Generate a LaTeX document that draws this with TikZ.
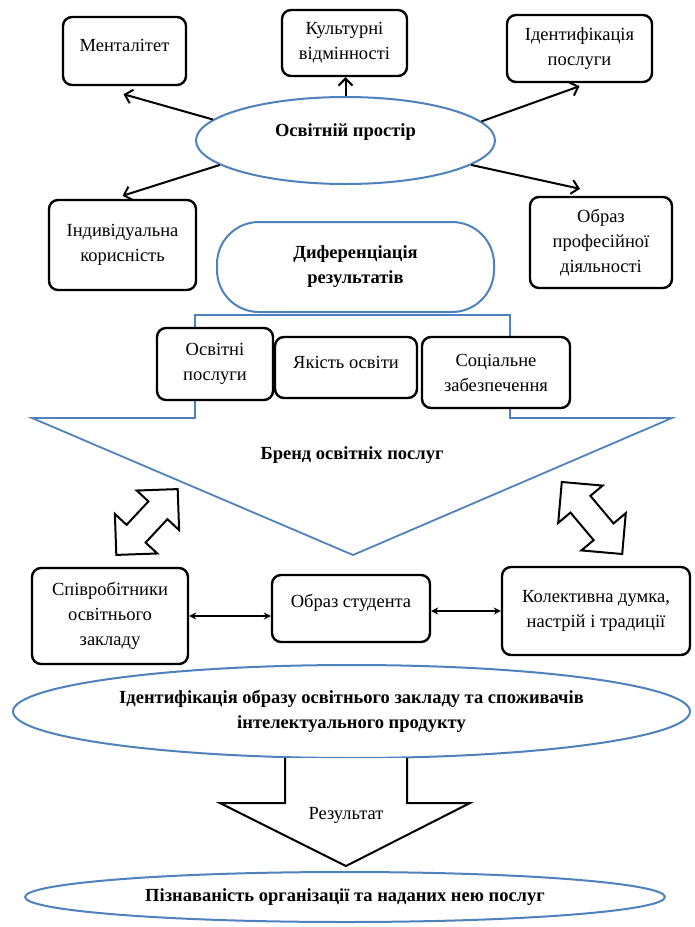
\documentclass[tikz,border=0pt]{standalone}
\usepackage{fontspec}
\setmainfont{Liberation Serif}
\usetikzlibrary{arrows.meta,calc,shapes.geometric}
\definecolor{myblue}{RGB}{79,129,189}
\newcommand\fsz{\fontsize{18.5}{25}\selectfont}
\begin{document}
\begin{tikzpicture}[x=1pt,y=-1pt,
  box/.style={draw=black, line width=2.4pt, rounded corners=9pt, fill=white, align=center, font=\fsz, inner sep=2pt},
  bluebox/.style={draw=myblue, line width=2pt, fill=white, align=center, font=\fsz\bfseries, inner sep=2pt},
  blueline/.style={draw=myblue, line width=1.8pt},
  barb/.style={line width=2pt, -{Straight Barb[length=7pt,width=14pt,line width=2pt]}},
  dbl/.style={line width=1.8pt, {Stealth[length=7pt,width=7pt]}-{Stealth[length=7pt,width=7pt]}},
  fatarrow/.style={draw=black, line width=2pt, fill=white, line join=miter},
  blockarrow/.style={draw=black, line width=2pt, fill=white}
]
\useasboundingbox (0,0) rectangle (694,927);

% bracket + brand triangle
\draw[blueline] (32,418) -- (195,418) -- (195,315) -- (510,315) -- (510,418) -- (672,418) -- (353,555) -- cycle;

% top part
\node[box, minimum width=123pt, minimum height=68pt, text depth=12pt] (ment) at (124.5,51) {Менталітет};
\node[box, minimum width=125pt, minimum height=66pt] (kult) at (344.5,43) {Культурні\\відмінності};
\node[box, minimum width=145pt, minimum height=67pt] (ident) at (579.5,48.5) {Ідентифікація\\послуги};
\node[bluebox, ellipse, minimum width=299pt, minimum height=87pt, text depth=20pt] (osv) at (345.5,140.5) {Освітній простір};
\node[box, minimum width=147pt, minimum height=90pt] (indiv) at (122.5,245) {Індивідуальна\\корисність};
\node[bluebox, rounded corners=42pt, minimum width=277pt, minimum height=90pt] (dif) at (355.5,267) {Диференціація\\результатів};
\node[box, minimum width=142pt, minimum height=91pt] (obr) at (601,242.5) {Образ\\професійної\\діяльності};

\draw[barb] (osv.171) -- ($(ment.south)+(-1,8)$);
\draw[barb] (osv.north) -- (osv.north |- kult.south);
\draw[barb] (osv.8) -- ($(ident.south)+(0,3)$);
\draw[barb] (osv.191) -- ($(indiv.north)+(0,-3)$);
\draw[barb] (osv.-11) -- ($(obr.north)+(-21,-7)$);

% middle boxes
\node[box, minimum width=116pt, minimum height=72pt] (osp) at (215,364) {Освітні\\послуги};
\node[box, minimum width=142pt, minimum height=61pt, text depth=10pt] (yak) at (346,367.5) {Якість освіти};
\node[box, minimum width=148pt, minimum height=71pt] (soc) at (496,372.5) {Соціальне\\забезпечення};
\node[font=\fsz\bfseries] (brand) at (352,455) {Бренд освітніх послуг};

% fat double arrows
\draw[fatarrow, shift={(147,522)}, rotate=47] (-45,0) -- (-16,29) -- (-16,13) -- (16,13) -- (16,29) -- (45,0) -- (16,-29) -- (16,-13) -- (-16,-13) -- (-16,-29) -- cycle;
\draw[fatarrow, shift={(592,518)}, rotate=130] (-47,0) -- (-18,29) -- (-18,13) -- (18,13) -- (18,29) -- (47,0) -- (18,-29) -- (18,-13) -- (-18,-13) -- (-18,-29) -- cycle;

% bottom row
\node[box, minimum width=156pt, minimum height=96pt] (spiv) at (110,616) {Співробітники\\освітнього\\закладу};
\node[box, minimum width=158pt, minimum height=67pt, text depth=16pt] (obst) at (351,608.5) {Образ студента};
\node[box, minimum width=188pt, minimum height=88pt] (kol) at (596,611) {Колективна думка,\\настрій і традиції};

\draw[dbl] (spiv.east) -- (spiv.east -| obst.west);
\draw[dbl] (kol.west -| obst.east) -- (kol.west);

% identification ellipse
\node[bluebox, ellipse, minimum width=677pt, minimum height=93pt] (idimg) at (351.5,711.5) {Ідентифікація образу освітнього закладу та споживачів\\інтелектуального продукту};

% result block arrow
\draw[blockarrow] (285,758) -- (285,803) -- (220,803) -- (346,866) -- (470,803) -- (407,803) -- (407,758);
\node[font=\fsz] (res) at (346,815) {Результат};

\node[bluebox, ellipse, minimum width=640pt, minimum height=50pt] (pizn) at (345,897) {Пізнаваність організації та наданих нею послуг};
\end{tikzpicture}
\end{document}
